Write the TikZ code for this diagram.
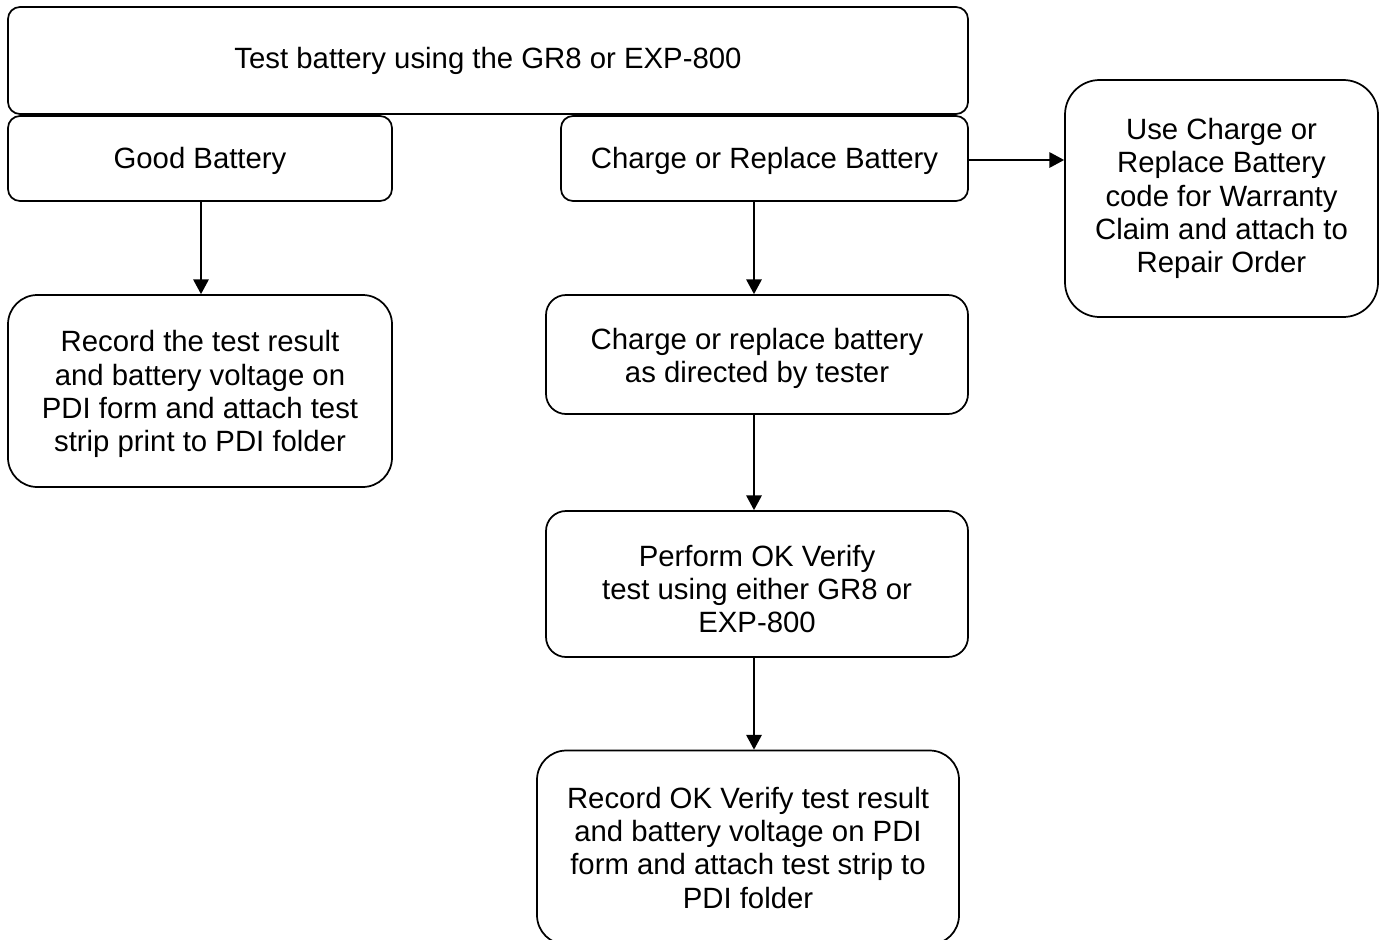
\documentclass[tikz,border=0pt]{standalone}
\usepackage{fontspec}
\setmainfont{Liberation Sans}
\usetikzlibrary{arrows.meta}
\newcommand{\dn}[1]{\rule{0pt}{#1}}
\tikzset{
  box/.style={draw=black, line width=1.3pt, fill=white, align=center, inner sep=0pt,
    font=\fontsize{22}{25}\selectfont},
  arr/.style={line width=1.3pt, -{Triangle[length=11pt,width=11.5pt]}}
}
\begin{document}
\begin{tikzpicture}[x=0.75pt,y=-0.75pt]
\useasboundingbox (0,0) rectangle (1383,939);
\node[box, minimum width=720pt, minimum height=80.25pt, rounded corners=9pt] (top) at (488,60.5) {Test battery using the GR8 or EXP-800};
\node[box, minimum width=288pt, minimum height=63.75pt, rounded corners=9pt] (good) at (200,158.5) {\dn{19pt}Good Battery};
\node[box, minimum width=305.25pt, minimum height=63.75pt, rounded corners=9pt] (crb) at (764.5,158.5) {\dn{19pt}Charge or Replace Battery};
\node[box, minimum width=234.75pt, minimum height=177.75pt, rounded corners=26pt] (right) at (1221.5,198.5) {Use Charge or\\Replace Battery\\code for Warranty\\Claim and attach to\\Repair Order};
\node[box, minimum width=288pt, minimum height=144pt, rounded corners=22pt] (rec) at (200,391) {\dn{21pt}Record the test result\\and battery voltage on\\PDI form and attach test\\strip print to PDI folder};
\node[box, minimum width=316.5pt, minimum height=89.25pt, rounded corners=15pt] (chg) at (757,354.5) {\dn{22pt}Charge or replace battery\\as directed by tester};
\node[box, minimum width=316.5pt, minimum height=109.5pt, rounded corners=15pt] (perf) at (757,584) {\dn{23.5pt}Perform OK Verify\\test using either GR8 or\\EXP-800};
\node[box, minimum width=316.5pt, minimum height=145.5pt, rounded corners=22pt] (bot) at (748,847.5) {Record OK Verify test result\\and battery voltage on PDI\\form and attach test strip to\\PDI folder};
\coordinate (ax) at (754,0);
\coordinate (gx) at (201,0);
\coordinate (ry) at (0,160);
\draw[arr] (good.south -| gx) -- (rec.north -| gx);
\draw[arr] (crb.south -| ax) -- (chg.north -| ax);
\draw[arr] (chg.south -| ax) -- (perf.north -| ax);
\draw[arr] (perf.south -| ax) -- (bot.north -| ax);
\draw[arr] (crb.east |- ry) -- (right.west |- ry);
\end{tikzpicture}
\end{document}
